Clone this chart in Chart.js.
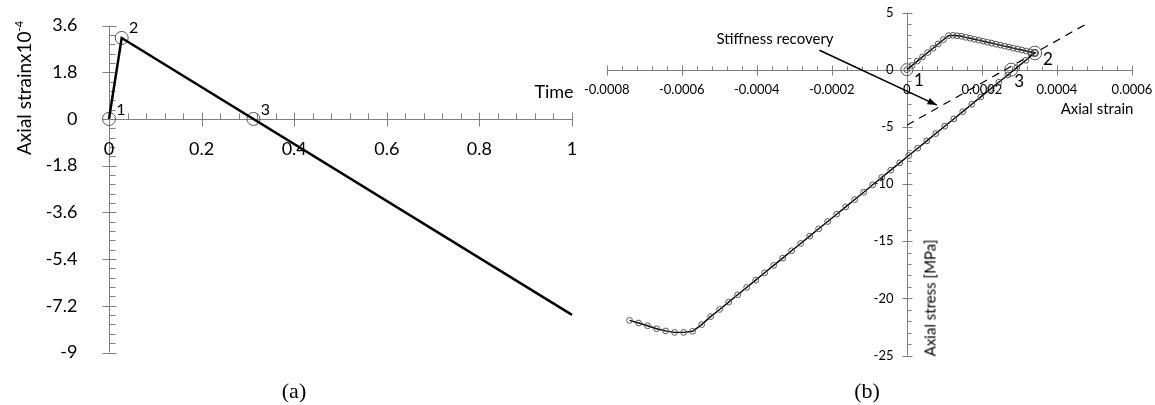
<!DOCTYPE html>
<html>
<head>
<meta charset="utf-8">
<script src="https://cdn.jsdelivr.net/npm/chart.js@4.4.1/dist/chart.umd.min.js"></script>
<style>
   html, body { margin: 0; padding: 0; background: #fff; }
   body { width: 1155px; height: 405px; position: relative; overflow: hidden; font-family: Lato, sans-serif; }
   .box { position: absolute; top: 0; height: 405px; }
   .lbl { position: absolute; white-space: nowrap; color: #000; line-height: 1; transform: translate(-50%, -50%); }
   .rot { transform: translate(-50%, -50%) rotate(-90deg); }
   .cap { font-family: "Liberation Serif", serif; font-size: 22px; }
   sup { font-size: 11px; vertical-align: 8px; }
</style>
</head>
<body>
<div class="box" style="left:0;width:580px"><canvas id="strainChart"></canvas></div>
<div class="box" style="left:580px;width:575px"><canvas id="stressChart"></canvas></div>

<div class="lbl rot" style="left:23px;top:88px;font-size:19px">Axial strainx10<sup>-4</sup></div>
<div class="lbl" style="left:554px;top:91px;font-size:18px">Time</div>
<div class="lbl" style="left:775px;top:38px;font-size:15px">Stiffness recovery</div>
<div class="lbl" style="left:1097px;top:108px;font-size:15px">Axial strain</div>
<div class="lbl rot" style="left:930px;top:298px;font-size:15px">Axial stress [MPa]</div>
<div class="lbl cap" style="left:294px;top:391px">(a)</div>
<div class="lbl cap" style="left:867px;top:391px">(b)</div>

<script>
// (a) strain history
const timeSteps = [0, 0.0274, 1];
const axialStrain = [0, 3.12, -7.55];
const keyTime = [0, 0.0274, 0.312];
const keyStrain = [0, 3.12, 0];
const keyNames = ['1', '2', '3'];
const timeTicks = [0, 0.2, 0.4, 0.6, 0.8, 1];
const strainTicks = [-9, -7.2, -5.4, -3.6, -1.8, 0, 1.8, 3.6];

// (b) stress-strain response
const curveStrain = [
   0, 0.0000139, 0.0000278, 0.0000417, 0.0000556, 0.0000694, 0.0000833, 0.0000972, 0.000111,
   0.0001225, 0.000134, 0.0001455, 0.000157, 0.0001685, 0.00018, 0.0001915, 0.000203, 0.0002145, 0.000226,
   0.0002375, 0.000249, 0.0002605, 0.000272, 0.0002835, 0.000295, 0.0003065, 0.000318, 0.0003295, 0.000341,
   0.000317, 0.000293, 0.000269, 0.000245, 0.000221, 0.000197, 0.000173, 0.000149, 0.000125, 0.000101,
   0.000077, 0.000053, 0.000029, 0.000005, -0.000019, -0.000043, -0.000067, -0.000091, -0.000115, -0.000139,
   -0.000163, -0.000187, -0.000211, -0.000235, -0.000259, -0.000283, -0.000307, -0.000331, -0.000355, -0.000379,
   -0.000403, -0.000427, -0.000451, -0.000475, -0.000499, -0.000523, -0.000547, -0.000571, -0.000595, -0.000619,
   -0.000643, -0.000667, -0.000691, -0.000715, -0.000739
];
const curveStress = [
   0, 0.37, 0.75, 1.12, 1.50, 1.87, 2.25, 2.62, 2.98,
   3.00, 2.97, 2.92, 2.83, 2.75, 2.66, 2.58, 2.49, 2.40, 2.32,
   2.23, 2.15, 2.06, 1.98, 1.89, 1.80, 1.72, 1.63, 1.55, 1.46,
   0.82, 0.18, -0.46, -1.10, -1.74, -2.38, -3.03, -3.67, -4.31, -4.95,
   -5.59, -6.23, -6.87, -7.51, -8.15, -8.79, -9.43, -10.07, -10.72, -11.36,
   -12.00, -12.64, -13.28, -13.92, -14.56, -15.20, -15.84, -16.48, -17.12, -17.76,
   -18.41, -19.05, -19.69, -20.33, -20.97, -21.60, -22.30, -22.88, -22.98, -22.98,
   -22.85, -22.66, -22.40, -22.16, -21.93
];
const keyStrainB = [0, 0.000341, 0.000278];
const keyStressB = [0, 1.46, 0];
const recoveryStrain = [0, 0.000475];
const recoveryStress = [-4.86, 3.94];
const arrowStrain = [-0.000233, 0.00008];
const arrowStress = [1.7, -3.1];
const strainTicksB = [-0.0008, -0.0006, -0.0004, -0.0002, 0, 0.0002, 0.0004, 0.0006];
const stressTicks = [-25, -20, -15, -10, -5, 0, 5];

function pts(xs, ys) {
   return xs.map((v, i) => ({ x: v, y: ys[i] }));
}

// axes that cross at the origin, major ticks through the line, minor ticks on one side
const crossAxes = {
   id: 'crossAxes',
   beforeDatasetsDraw(chart, args, o) {
      const { ctx, scales: { x, y } } = chart;
      const x0 = Math.round(x.getPixelForValue(0)) + 0.5;
      const y0 = Math.round(y.getPixelForValue(0)) + 0.5;
      ctx.save();
      ctx.strokeStyle = o.color;
      ctx.lineWidth = 1;
      ctx.beginPath();
      ctx.moveTo(x.left, y0); ctx.lineTo(x.right, y0);
      ctx.moveTo(x0, y.top); ctx.lineTo(x0, y.bottom);
      let n = Math.round((x.max - x.min) / o.xMinor);
      for (let i = 0; i <= n; i++) {
         const px = Math.round(x.getPixelForValue(x.min + i * o.xMinor)) + 0.5;
         ctx.moveTo(px, y0); ctx.lineTo(px, y0 - o.minorLen);
      }
      n = Math.round((y.max - y.min) / o.yMinor);
      for (let i = 0; i <= n; i++) {
         const py = Math.round(y.getPixelForValue(y.min + i * o.yMinor)) + 0.5;
         ctx.moveTo(x0, py); ctx.lineTo(x0 + o.minorLen, py);
      }
      o.xTicks.forEach(v => {
         const px = Math.round(x.getPixelForValue(v)) + 0.5;
         ctx.moveTo(px, y0 - o.majorLen); ctx.lineTo(px, y0 + o.majorLen);
      });
      o.yTicks.forEach(v => {
         const py = Math.round(y.getPixelForValue(v)) + 0.5;
         ctx.moveTo(x0 - o.majorLen, py); ctx.lineTo(x0 + o.majorLen, py);
      });
      ctx.stroke();

      ctx.fillStyle = '#000';
      ctx.font = o.fontSize + 'px Lato';
      ctx.textBaseline = 'middle';
      ctx.textAlign = 'center';
      o.xTicks.forEach(v => ctx.fillText(String(v), x.getPixelForValue(v), y0 + o.xGap));
      ctx.textAlign = 'right';
      o.yTicks.forEach(v => ctx.fillText(String(v), x0 - o.yGap, y.getPixelForValue(v)));
      ctx.restore();
   },
   afterDatasetsDraw(chart, args, o) {
      const { ctx, scales: { x, y } } = chart;
      ctx.save();
      ctx.fillStyle = '#000';
      ctx.font = o.tagSize + 'px Lato';
      ctx.textAlign = 'center';
      ctx.textBaseline = 'middle';
      o.tags.forEach((t, i) => {
         ctx.fillText(t, x.getPixelForValue(o.tagX[i]) + o.tagOffsets[i][0], y.getPixelForValue(o.tagY[i]) + o.tagOffsets[i][1]);
      });
      if (o.arrow) {
         const ax = x.getPixelForValue(o.arrow.x[1]), ay = y.getPixelForValue(o.arrow.y[1]);
         const bx = x.getPixelForValue(o.arrow.x[0]), by = y.getPixelForValue(o.arrow.y[0]);
         const ang = Math.atan2(ay - by, ax - bx);
         ctx.beginPath();
         ctx.moveTo(ax, ay);
         ctx.lineTo(ax - 10 * Math.cos(ang - 0.35), ay - 10 * Math.sin(ang - 0.35));
         ctx.lineTo(ax - 10 * Math.cos(ang + 0.35), ay - 10 * Math.sin(ang + 0.35));
         ctx.closePath();
         ctx.fill();
      }
      ctx.restore();
   }
};

const baseOptions = (padding, xs, ys) => ({
   responsive: true,
   maintainAspectRatio: false,
   animation: false,
   events: [],
   layout: { padding },
   scales: {
      x: { type: 'linear', min: xs[0], max: xs[1], display: false },
      y: { type: 'linear', min: ys[0], max: ys[1], display: false }
   }
});

new Chart(document.getElementById('strainChart').getContext('2d'), {
   type: 'scatter',
   data: {
      datasets: [{
         data: pts(timeSteps, axialStrain),
         showLine: true,
         borderColor: '#000',
         borderWidth: 2.5,
         pointRadius: 0,
         clip: false
      }, {
         data: pts(keyTime, keyStrain),
         pointRadius: 6.5,
         pointBorderColor: '#555',
         pointBorderWidth: 1,
         pointBackgroundColor: 'rgba(0,0,0,0)',
         clip: false
      }]
   },
   options: Object.assign(baseOptions({ left: 109, right: 8, top: 25.5, bottom: 52.5 }, [0, 1], [-9, 3.6]), {
      plugins: {
         legend: { display: false },
         tooltip: { enabled: false },
         crossAxes: {
            color: '#808080', majorLen: 7, minorLen: 6, fontSize: 18,
            xTicks: timeTicks, yTicks: strainTicks, xMinor: 0.04, yMinor: 0.36,
            xGap: 30, yGap: 32,
            tags: keyNames, tagX: keyTime, tagY: keyStrain, tagSize: 16,
            tagOffsets: [[12, -9], [12, -10], [12, -9]]
         }
      }
   }),
   plugins: [crossAxes]
});

new Chart(document.getElementById('stressChart').getContext('2d'), {
   type: 'scatter',
   data: {
      datasets: [{
         data: pts(curveStrain, curveStress),
         showLine: true,
         borderColor: '#000',
         borderWidth: 1.4,
         pointRadius: 2.9,
         pointBorderColor: '#555',
         pointBorderWidth: 1,
         pointBackgroundColor: 'rgba(0,0,0,0)',
         clip: false
      }, {
         data: pts(recoveryStrain, recoveryStress),
         showLine: true,
         borderColor: '#000',
         borderWidth: 1.2,
         borderDash: [8, 6],
         pointRadius: 0
      }, {
         data: pts(arrowStrain, arrowStress),
         showLine: true,
         borderColor: '#000',
         borderWidth: 1.6,
         pointRadius: 0,
         clip: false
      }, {
         data: pts(keyStrainB, keyStressB),
         pointRadius: [6, 6.8, 6.5],
         pointBorderColor: '#555',
         pointBorderWidth: 1,
         pointBackgroundColor: 'rgba(0,0,0,0)',
         clip: false
      }, {
         data: pts(keyStrainB.slice(1, 2), keyStressB.slice(1, 2)),
         pointRadius: 3.8,
         pointBorderColor: '#555',
         pointBorderWidth: 1,
         pointBackgroundColor: 'rgba(0,0,0,0)',
         clip: false
      }]
   },
   options: Object.assign(baseOptions({ left: 26.7, right: 23, top: 12.5, bottom: 49.5 }, [-0.0008, 0.0006], [-25, 5]), {
      plugins: {
         legend: { display: false },
         tooltip: { enabled: false },
         crossAxes: {
            color: '#808080', majorLen: 5, minorLen: 4, fontSize: 13,
            xTicks: strainTicksB, yTicks: stressTicks, xMinor: 0.00004, yMinor: 1,
            xGap: 19, yGap: 14,
            tags: keyNames, tagX: keyStrainB, tagY: keyStressB, tagSize: 17,
            tagOffsets: [[12, 11], [13, 7], [8, 12]],
            arrow: { x: arrowStrain, y: arrowStress }
         }
      }
   }),
   plugins: [crossAxes]
});
</script>
</body>
</html>
